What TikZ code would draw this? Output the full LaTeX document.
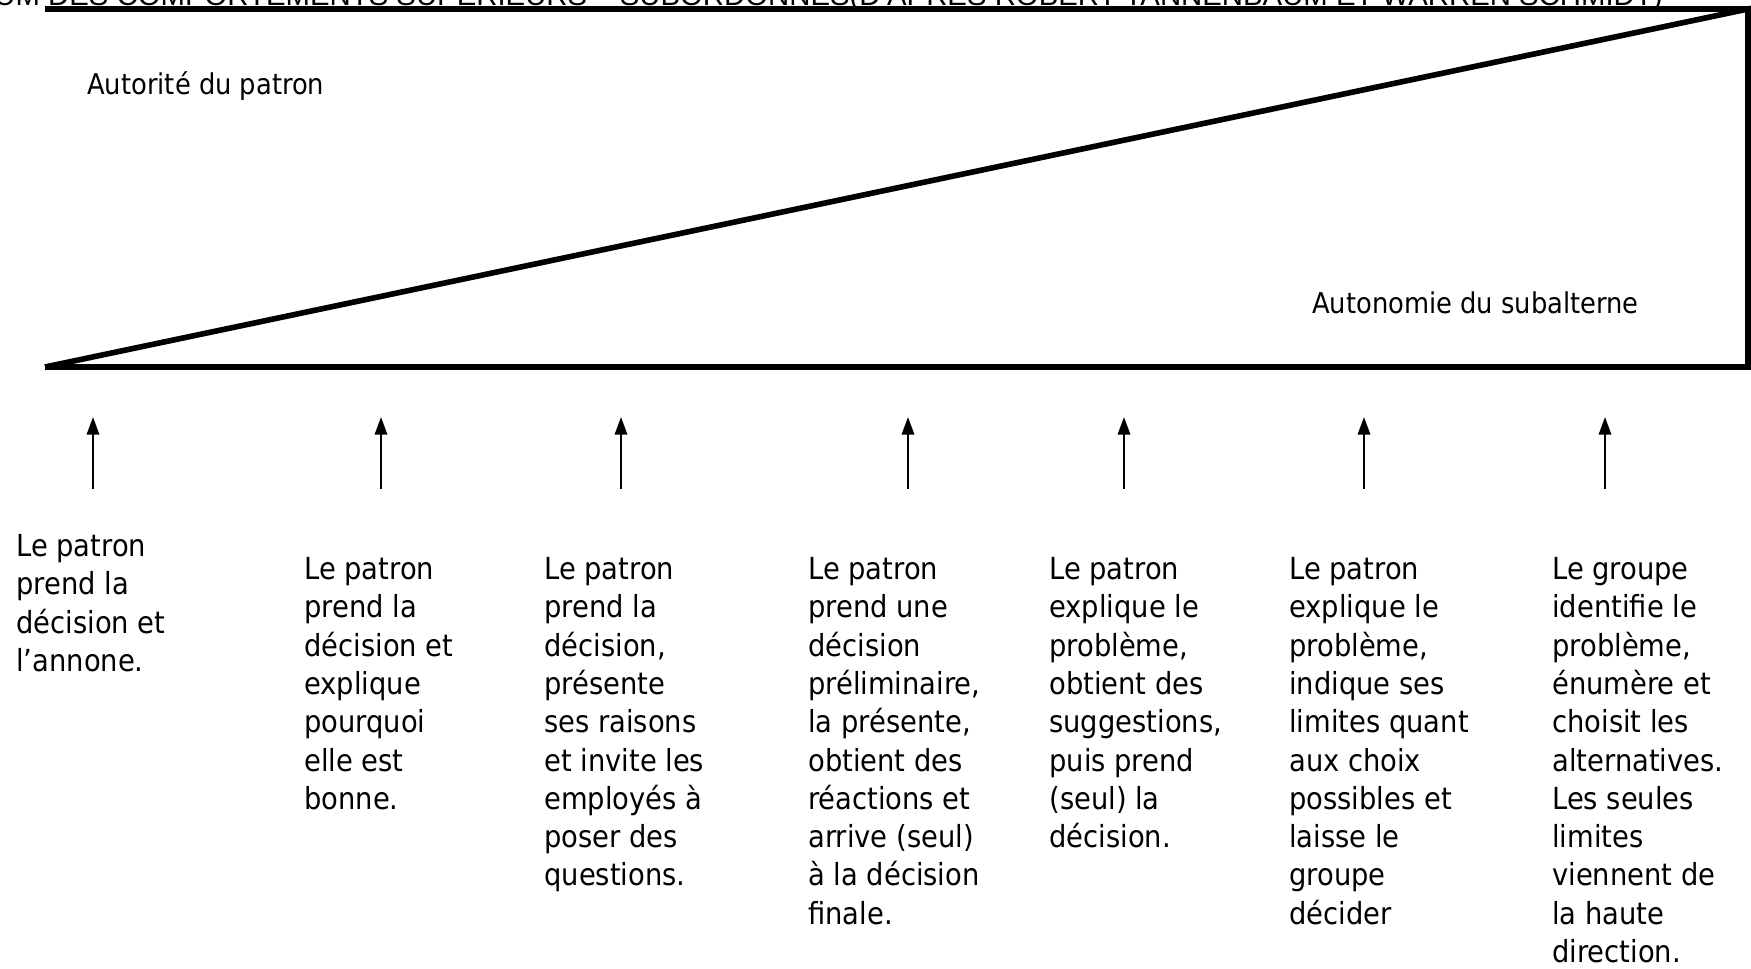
\documentclass[tikz,border=0pt]{standalone}
\usepackage{fontspec}
\setmainfont{DejaVu Sans Condensed}
\newfontfamily\titlefont{Liberation Sans}
\usetikzlibrary{arrows.meta}

\tikzset{
  bar/.style={line width=3.2pt},
  arr/.style={line width=1.3pt,-{Triangle[width=7pt,length=10pt]}},
  desc/.style={anchor=north west,inner sep=0pt,align=left,font=\fontsize{17.3}{21.8}\selectfont},
  lab/.style={anchor=base west,inner sep=0pt,font=\fontsize{16.3}{21.8}\selectfont}
}

\begin{document}
\begin{tikzpicture}[x=0.02cm,y=-0.02cm]

  \useasboundingbox (0,0) rectangle (1751,968);

  % Title, mostly cut by the top of the page
  \node[anchor=base east,inner sep=0pt,font=\titlefont\fontsize{16.7}{20}\selectfont] (title) at (1663,5)
    {CONTINUUM DES COMPORTEMENTS SUPÉRIEURS – SUBORDONNÉS(D’APRÈS ROBERT TANNENBAUM ET WARREN SCHMIDT)};

  % The bar split by its diagonal
  \coordinate (tl) at (45,9);
  \coordinate (tr) at (1748,9);
  \coordinate (br) at (1748,367);
  \coordinate (bl) at (45,367);
  \draw[bar] (tl) -- (tr);
  \draw[bar] (bl) -- (tr) -- (br) -- (bl);

  \node[lab] (boss) at (87,94) {Autorité du patron};
  \node[lab] (staff) at (1312,313) {Autonomie du subalterne};

  % Arrows up to the bar
  \foreach \x [count=\i] in {93,381,621,908,1124,1364,1605} {
    \coordinate (tail\i) at (\x,489);
    \coordinate (tip\i) at (\x,417);
    \draw[arr] (tail\i) -- (tip\i);
  }

  % Behaviours, from the boss to the group
  \node[desc] (b1) at (16,534) {Le patron\\prend la\\décision et\\l’annone.};
  \node[desc] (b2) at (304,557) {Le patron\\prend la\\décision et\\explique\\pourquoi\\elle est\\bonne.};
  \node[desc] (b3) at (544,557) {Le patron\\prend la\\décision,\\présente\\ses raisons\\et invite les\\employés à\\poser des\\questions.};
  \node[desc] (b4) at (808,557) {Le patron\\prend une\\décision\\préliminaire,\\la présente,\\obtient des\\réactions et\\arrive (seul)\\à la décision\\finale.};
  \node[desc] (b5) at (1049,557) {Le patron\\explique le\\problème,\\obtient des\\suggestions,\\puis prend\\(seul) la\\décision.};
  \node[desc] (b6) at (1289,557) {Le patron\\explique le\\problème,\\indique ses\\limites quant\\aux choix\\possibles et\\laisse le\\groupe\\décider};
  \node[desc] (b7) at (1552,557) {Le groupe\\identifie le\\problème,\\énumère et\\choisit les\\alternatives.\\Les seules\\limites\\viennent de\\la haute\\direction.};

\end{tikzpicture}
\end{document}
